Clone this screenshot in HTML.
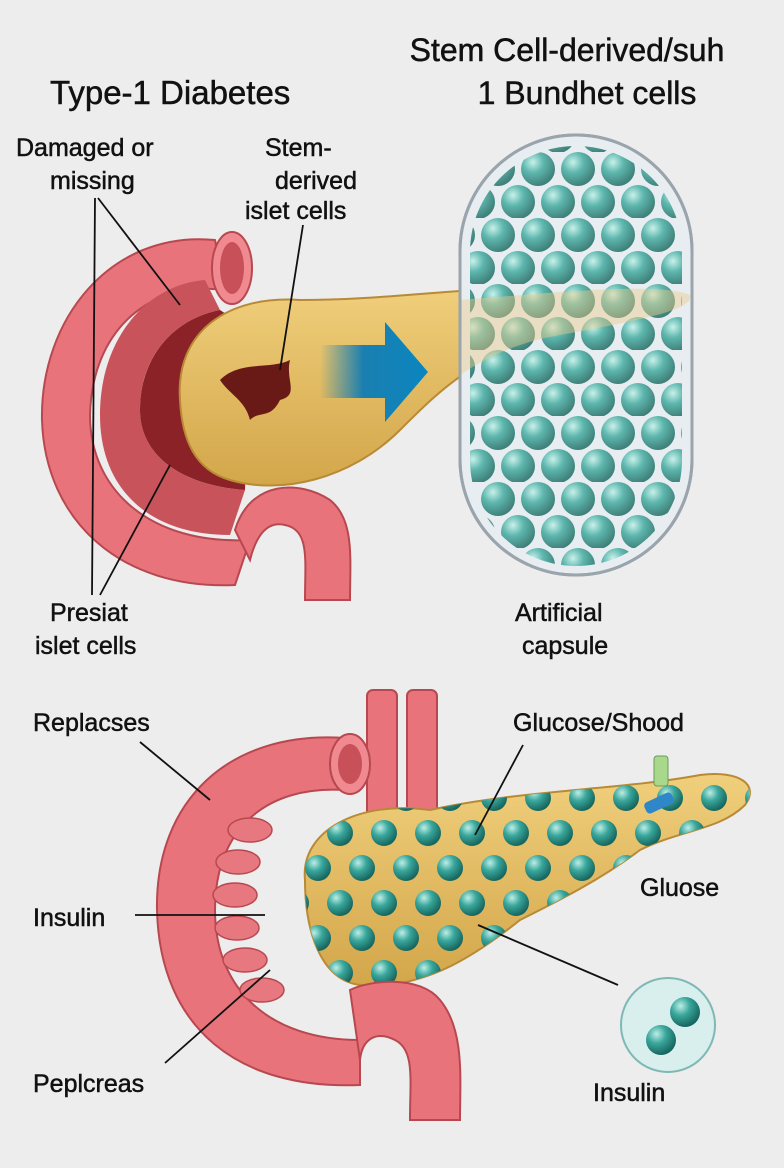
<!DOCTYPE html>
<html><head><meta charset="utf-8"><style>
html,body{margin:0;padding:0;background:#ededed;}
svg{display:block}
text{font-family:"Liberation Sans",sans-serif;fill:#111;stroke:#111;stroke-width:0.5;}
</style></head><body>
<svg width="784" height="1168" viewBox="0 0 784 1168" xmlns="http://www.w3.org/2000/svg">
<defs>
<radialGradient id="sph" cx="35%" cy="30%" r="70%">
<stop offset="0" stop-color="#bdeee6"/><stop offset="0.45" stop-color="#3aa79c"/><stop offset="1" stop-color="#17675f"/>
</radialGradient>
<pattern id="hex" x="478" y="152" width="40" height="66" patternUnits="userSpaceOnUse">
<circle cx="20" cy="17" r="17" fill="url(#sph)"/>
<circle cx="0" cy="50" r="17" fill="url(#sph)"/>
<circle cx="40" cy="50" r="17" fill="url(#sph)"/>
</pattern>
<pattern id="hex2" x="318" y="815" width="44" height="70" patternUnits="userSpaceOnUse">
<circle cx="22" cy="18" r="13" fill="url(#sph)"/>
<circle cx="0" cy="53" r="13" fill="url(#sph)"/>
<circle cx="44" cy="53" r="13" fill="url(#sph)"/>
</pattern>
<linearGradient id="panc" x1="0" y1="0" x2="0" y2="1">
<stop offset="0" stop-color="#f0cf7c"/><stop offset="1" stop-color="#d3a64a"/>
</linearGradient>
<linearGradient id="arr" x1="0" y1="0" x2="1" y2="0">
<stop offset="0" stop-color="#1a7fb0" stop-opacity="0"/><stop offset="0.4" stop-color="#1a7fb0"/><stop offset="1" stop-color="#0a86c0"/>
</linearGradient>
<clipPath id="capIn"><rect x="470" y="146" width="212" height="420" rx="106"/></clipPath>
<clipPath id="pb"><path d="M305 880 C300 830 360 800 430 810 C520 790 620 790 700 775 C740 770 760 785 745 805 C720 830 680 830 640 850 C600 880 560 900 520 920 C470 960 420 990 360 985 C320 980 305 930 305 880Z"/></clipPath>
</defs>

<text x="50" y="104" font-size="33">Type-1 Diabetes</text>
<text x="567" y="61" font-size="32" text-anchor="middle">Stem Cell-derived/suh</text>
<text x="587" y="104" font-size="32" text-anchor="middle">1 Bundhet cells</text>

<path d="M215 240 C110 230 40 320 42 420 C45 520 120 590 235 585 L250 540 C150 545 90 490 90 415 C92 330 150 280 225 290Z" fill="#e8737b" stroke="#b84850" stroke-width="2"/>
<path d="M205 280 C145 285 100 340 100 415 C100 490 150 535 230 535 L245 490 C180 485 140 455 140 410 C140 360 170 320 220 310Z" fill="#c9535b"/>
<path d="M220 310 C170 320 140 360 140 410 C140 455 180 485 245 490 L250 330Z" fill="#8a2228"/>
<ellipse cx="232" cy="268" rx="20" ry="36" fill="#f08a90" stroke="#b84850" stroke-width="2"/>
<ellipse cx="232" cy="268" rx="12" ry="26" fill="#c85058"/>
<path d="M180 400 C175 330 230 295 300 300 C380 300 440 290 520 288 C600 286 680 280 690 295 C695 310 640 320 560 335 C480 350 440 390 400 430 C350 480 280 495 230 480 C195 470 182 440 180 400Z" fill="url(#panc)" stroke="#b88a35" stroke-width="2"/>
<path d="M220 380 C240 360 270 370 290 360 C285 380 300 395 280 400 C270 420 260 410 250 420 C245 400 230 395 220 380Z" fill="#6a1a16"/>
<path d="M235 530 C250 480 300 480 330 500 C355 520 350 560 350 600 L305 600 C305 560 310 530 285 525 C265 520 255 540 250 560Z" fill="#e8737b" stroke="#b84850" stroke-width="2"/>
<path d="M320 345 L385 345 L385 322 L428 372 L385 422 L385 398 L320 398Z" fill="url(#arr)"/>

<rect x="460" y="135" width="232" height="440" rx="116" fill="#e3e9ee" stroke="#9aa4ad" stroke-width="3"/>
<rect x="470" y="146" width="212" height="420" fill="url(#hex)" clip-path="url(#capIn)"/>
<path d="M460 300 C560 292 660 282 690 295 C695 310 640 320 560 335 C520 342 490 355 460 375Z" fill="#e6c070" fill-opacity="0.45"/>
<rect x="460" y="135" width="232" height="440" rx="116" fill="#ffffff" fill-opacity="0.18" stroke="#9aa4ad" stroke-width="3"/>

<g font-size="25">
<text x="16" y="156">Damaged or</text>
<text x="50" y="189">missing</text>
<text x="265" y="156">Stem-</text>
<text x="275" y="189">derived</text>
<text x="245" y="219">islet cells</text>
<text x="50" y="621">Presiat</text>
<text x="35" y="654">islet cells</text>
<text x="515" y="621">Artificial</text>
<text x="522" y="654">capsule</text>
</g>
<g stroke="#111" stroke-width="1.8" fill="none">
<line x1="98" y1="198" x2="180" y2="305"/>
<line x1="95" y1="198" x2="92" y2="595"/>
<line x1="303" y1="225" x2="280" y2="370"/>
<line x1="100" y1="595" x2="170" y2="465"/>
</g>

<rect x="367" y="690" width="30" height="130" rx="6" fill="#e8737b" stroke="#b84850" stroke-width="2"/>
<rect x="407" y="690" width="30" height="130" rx="6" fill="#e8737b" stroke="#b84850" stroke-width="2"/>
<path d="M345 738 C230 730 155 800 157 910 C160 1030 240 1090 360 1085 L360 1040 C270 1040 215 990 215 910 C215 830 265 785 345 790Z" fill="#e8737b" stroke="#b84850" stroke-width="2"/>
<ellipse cx="350" cy="764" rx="20" ry="30" fill="#f08a90" stroke="#b84850" stroke-width="2"/>
<ellipse cx="350" cy="764" rx="12" ry="20" fill="#c85058"/>
<g fill="#e77880" stroke="#b84850" stroke-width="1.5">
<ellipse cx="250" cy="830" rx="22" ry="12"/><ellipse cx="238" cy="862" rx="22" ry="12"/>
<ellipse cx="235" cy="895" rx="22" ry="12"/><ellipse cx="237" cy="928" rx="22" ry="12"/>
<ellipse cx="245" cy="960" rx="22" ry="12"/><ellipse cx="262" cy="990" rx="22" ry="12"/>
</g>
<path d="M305 880 C300 830 360 800 430 810 C520 790 620 790 700 775 C740 770 760 785 745 805 C720 830 680 830 640 850 C600 880 560 900 520 920 C470 960 420 990 360 985 C320 980 305 930 305 880Z" fill="url(#panc)" stroke="#b88a35" stroke-width="2"/>
<rect x="300" y="770" width="460" height="230" fill="url(#hex2)" clip-path="url(#pb)"/>
<path d="M350 990 C370 980 420 975 440 1000 C465 1030 460 1080 460 1120 L410 1120 C410 1080 415 1050 395 1040 C375 1030 362 1040 360 1060Z" fill="#e8737b" stroke="#b84850" stroke-width="2"/>
<rect x="654" y="756" width="14" height="30" rx="3" fill="#a8d88c" stroke="#6a9a58"/>
<rect x="644" y="797" width="30" height="12" rx="4" fill="#2f86c8" transform="rotate(-25 659 803)"/>
<circle cx="668" cy="1025" r="47" fill="#d8efee" stroke="#7fb8b4" stroke-width="2"/>
<circle cx="685" cy="1012" r="15" fill="url(#sph)"/>
<circle cx="661" cy="1040" r="15" fill="url(#sph)"/>

<g font-size="25">
<text x="33" y="731">Replacses</text>
<text x="513" y="731">Glucose/Shood</text>
<text x="33" y="926">Insulin</text>
<text x="640" y="896">Gluose</text>
<text x="33" y="1092">Peplcreas</text>
<text x="593" y="1101">Insulin</text>
</g>
<g stroke="#111" stroke-width="1.8" fill="none">
<line x1="140" y1="742" x2="210" y2="800"/>
<line x1="523" y1="745" x2="475" y2="835"/>
<line x1="135" y1="915" x2="265" y2="915"/>
<line x1="165" y1="1063" x2="270" y2="970"/>
<line x1="478" y1="925" x2="618" y2="985"/>
</g>
</svg>
</body></html>
